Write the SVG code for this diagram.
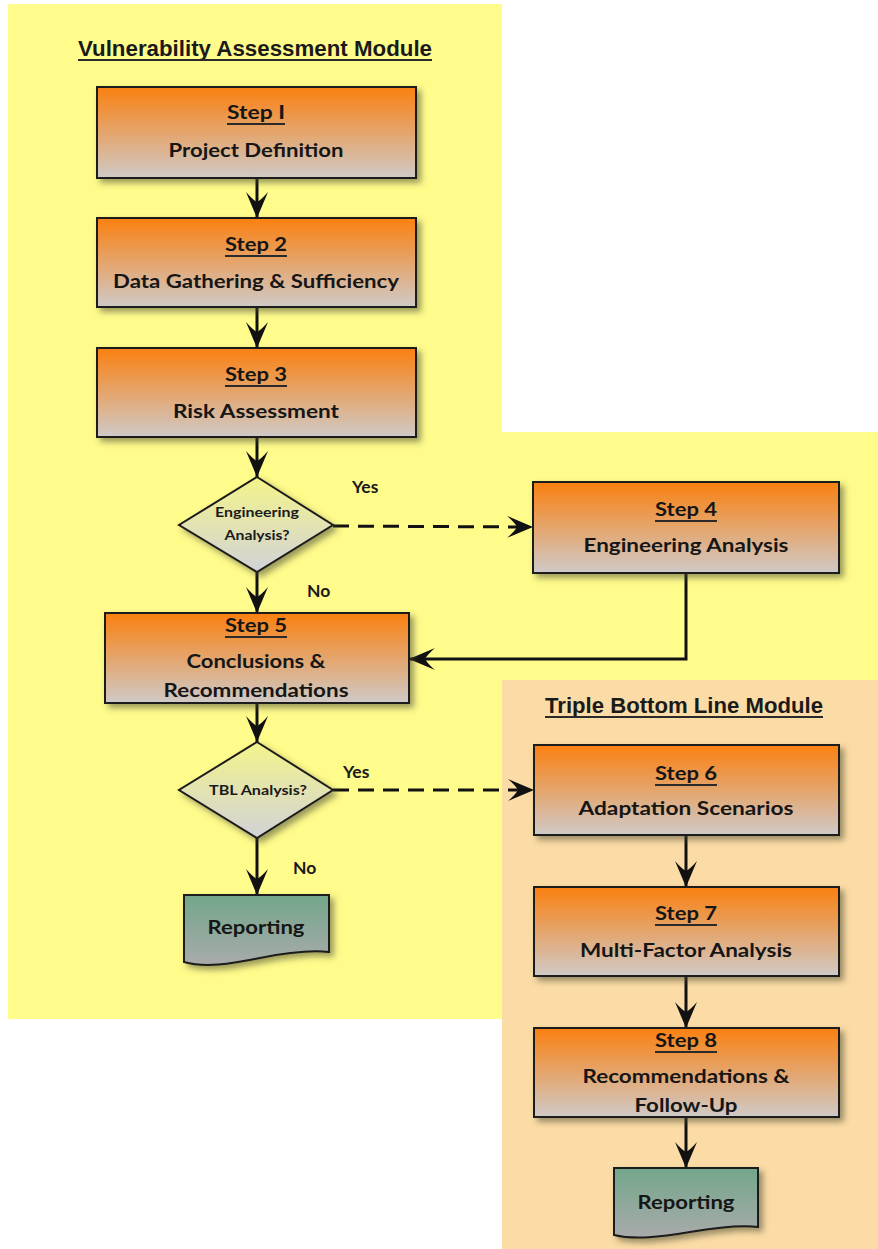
<svg xmlns="http://www.w3.org/2000/svg" width="878" height="1249" viewBox="0 0 878 1249">
<defs>
<linearGradient id="gStep" x1="0" y1="0" x2="0" y2="1"><stop offset="0" stop-color="#FA8010"/><stop offset="1" stop-color="#CFCAC8"/></linearGradient>
<linearGradient id="gDia" x1="0" y1="0" x2="0" y2="1"><stop offset="0" stop-color="#F3F48A"/><stop offset="1" stop-color="#D2D2D8"/></linearGradient>
<linearGradient id="gRep" x1="0" y1="0" x2="0" y2="1"><stop offset="0" stop-color="#72A68A"/><stop offset="1" stop-color="#A9ABAB"/></linearGradient>
<filter id="shadow" x="-10%" y="-15%" width="125%" height="145%"><feDropShadow dx="4" dy="4" stdDeviation="3" flood-color="#4a4a30" flood-opacity="0.55"/></filter>
<marker id="arrow" viewBox="-30 -13 32 26" refX="0" refY="0" markerWidth="32" markerHeight="26" markerUnits="userSpaceOnUse" orient="auto"><path d="M0,0 L-26,-11 Q-18,-4 -16,0 Q-18,4 -26,11 Z" fill="#111"/></marker>
</defs>
<style>
.box{fill:url(#gStep);stroke:#1a1a1a;stroke-width:2;filter:url(#shadow)}
.dia{fill:url(#gDia);stroke:#1a1a1a;stroke-width:2;filter:url(#shadow)}
.rep{fill:url(#gRep);stroke:#1a1a1a;stroke-width:2;filter:url(#shadow)}
.t{font-family:Lato,"Liberation Sans",sans-serif;font-weight:bold;font-size:19.5px;fill:#161616;text-anchor:middle}
.s{font-family:Lato,"Liberation Sans",sans-serif;font-weight:bold;font-size:13.5px;fill:#1a1a1a;text-anchor:middle}
.lbl{font-family:Lato,"Liberation Sans",sans-serif;font-weight:bold;font-size:17.5px;fill:#1a1a1a}
.title{font-family:"Liberation Sans",Arial,sans-serif;font-weight:bold;font-size:22px;fill:#1a1a1a;text-anchor:middle}
.ul{stroke:#2a2a2a;stroke-width:2}
.con{fill:none;stroke:#111;stroke-width:3;marker-end:url(#arrow)}
.dash{stroke-dasharray:16 9}
</style>

<g id="panels">
<rect x="8" y="4" width="494" height="1015" fill="#FFFC8C"/>
<rect x="500" y="432" width="378" height="248" fill="#FFFC8C"/>
<rect x="502" y="680" width="376" height="569" fill="#FCDCA6"/>
</g>

<g id="title-va">
<text class="title" x="255" y="56" textLength="354" lengthAdjust="spacingAndGlyphs">Vulnerability Assessment Module</text>
<line class="ul" x1="78" y1="60" x2="432" y2="60"/>
</g>
<g id="title-tbl">
<text class="title" x="684" y="713" textLength="278" lengthAdjust="spacingAndGlyphs">Triple Bottom  Line Module</text>
<line class="ul" x1="545" y1="717" x2="823" y2="717"/>
</g>

<g id="connectors">
<line class="con" x1="257" y1="178" x2="257" y2="218"/>
<line class="con" x1="257" y1="307" x2="257" y2="348"/>
<line class="con" x1="257" y1="437" x2="257" y2="477"/>
<line class="con" x1="257" y1="572" x2="257" y2="613"/>
<line class="con dash" x1="333" y1="526" x2="533" y2="527"/>
<polyline class="con" points="686,573 686,659 409,659"/>
<line class="con" x1="257" y1="703" x2="257" y2="742"/>
<line class="con" x1="257" y1="838" x2="257" y2="895"/>
<line class="con dash" x1="333" y1="790" x2="534" y2="790"/>
<line class="con" x1="686" y1="835" x2="686" y2="887"/>
<line class="con" x1="686" y1="976" x2="686" y2="1028"/>
<line class="con" x1="686" y1="1117" x2="686" y2="1168"/>
<text class="lbl" x="352" y="493">Yes</text>
<text class="lbl" x="307" y="597">No</text>
<text class="lbl" x="343" y="778">Yes</text>
<text class="lbl" x="293" y="874">No</text>
</g>

<g id="step1">
<rect class="box" x="97" y="87" width="319" height="91"/>
<text class="t" x="256" y="119" textLength="58" lengthAdjust="spacingAndGlyphs">Step I</text>
<line class="ul" x1="227" y1="124" x2="285" y2="124"/>
<text class="t" x="256" y="157" textLength="175" lengthAdjust="spacingAndGlyphs">Project Definition</text>
</g>

<g id="step2">
<rect class="box" x="97" y="218" width="319" height="89"/>
<text class="t" x="256" y="251" textLength="62" lengthAdjust="spacingAndGlyphs">Step 2</text>
<line class="ul" x1="225" y1="256" x2="287" y2="256"/>
<text class="t" x="256" y="288" textLength="286" lengthAdjust="spacingAndGlyphs">Data Gathering &amp; Sufficiency</text>
</g>

<g id="step3">
<rect class="box" x="97" y="348" width="319" height="89"/>
<text class="t" x="256" y="381" textLength="62" lengthAdjust="spacingAndGlyphs">Step 3</text>
<line class="ul" x1="225" y1="386" x2="287" y2="386"/>
<text class="t" x="256" y="418" textLength="166" lengthAdjust="spacingAndGlyphs">Risk Assessment</text>
</g>

<g id="decision-engineering">
<polygon class="dia" points="257,477 333,525 257,572 179,525"/>
<text class="s" x="257" y="517" textLength="84" lengthAdjust="spacingAndGlyphs">Engineering</text>
<text class="s" x="257" y="540" textLength="65" lengthAdjust="spacingAndGlyphs">Analysis?</text>
</g>

<g id="step4">
<rect class="box" x="533" y="482" width="306" height="91"/>
<text class="t" x="686" y="516" textLength="62" lengthAdjust="spacingAndGlyphs">Step 4</text>
<line class="ul" x1="655" y1="521" x2="717" y2="521"/>
<text class="t" x="686" y="552" textLength="205" lengthAdjust="spacingAndGlyphs">Engineering Analysis</text>
</g>

<g id="step5">
<rect class="box" x="105" y="613" width="304" height="90"/>
<text class="t" x="256" y="632" textLength="62" lengthAdjust="spacingAndGlyphs">Step 5</text>
<line class="ul" x1="225" y1="637" x2="287" y2="637"/>
<text class="t" x="256" y="668" textLength="139" lengthAdjust="spacingAndGlyphs">Conclusions &amp;</text>
<text class="t" x="256" y="697" textLength="185" lengthAdjust="spacingAndGlyphs">Recommendations</text>
</g>

<g id="decision-tbl">
<polygon class="dia" points="257,742 333,790 257,838 179,790"/>
<text class="s" x="258" y="795" textLength="98" lengthAdjust="spacingAndGlyphs">TBL Analysis?</text>
</g>

<g id="reporting-1">
<path class="rep" d="M184,895 H329 V952 C310,950 290,952 260,958 C230,964 205,968 184,962 Z"/>
<text class="t" x="256" y="934" textLength="97" lengthAdjust="spacingAndGlyphs">Reporting</text>
</g>

<g id="step6">
<rect class="box" x="534" y="745" width="305" height="90"/>
<text class="t" x="686" y="780" textLength="62" lengthAdjust="spacingAndGlyphs">Step 6</text>
<line class="ul" x1="655" y1="785" x2="717" y2="785"/>
<text class="t" x="686" y="815" textLength="215" lengthAdjust="spacingAndGlyphs">Adaptation Scenarios</text>
</g>

<g id="step7">
<rect class="box" x="534" y="887" width="305" height="89"/>
<text class="t" x="686" y="920" textLength="62" lengthAdjust="spacingAndGlyphs">Step 7</text>
<line class="ul" x1="655" y1="925" x2="717" y2="925"/>
<text class="t" x="686" y="957" textLength="212" lengthAdjust="spacingAndGlyphs">Multi-Factor Analysis</text>
</g>

<g id="step8">
<rect class="box" x="534" y="1028" width="305" height="89"/>
<text class="t" x="686" y="1047" textLength="62" lengthAdjust="spacingAndGlyphs">Step 8</text>
<line class="ul" x1="655" y1="1052" x2="717" y2="1052"/>
<text class="t" x="686" y="1083" textLength="207" lengthAdjust="spacingAndGlyphs">Recommendations &amp;</text>
<text class="t" x="686" y="1112" textLength="103" lengthAdjust="spacingAndGlyphs">Follow-Up</text>
</g>

<g id="reporting-2">
<path class="rep" d="M614,1168 H758 V1227 C740,1225 720,1227 690,1232 C660,1237 635,1240 614,1235 Z"/>
<text class="t" x="686" y="1209" textLength="97" lengthAdjust="spacingAndGlyphs">Reporting</text>
</g>
</svg>
